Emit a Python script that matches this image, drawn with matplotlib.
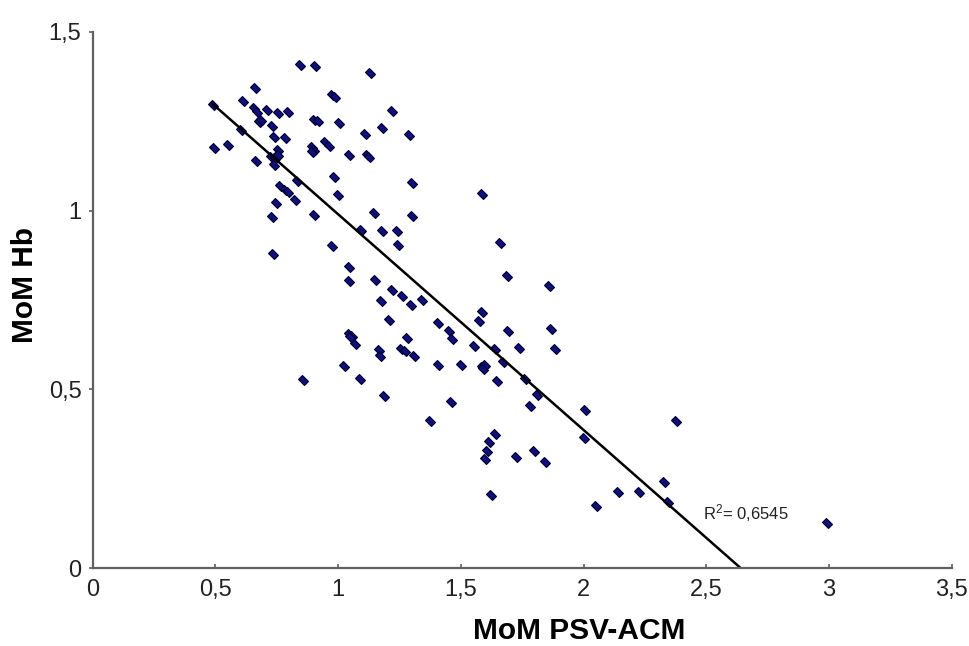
import matplotlib
matplotlib.use("Agg")
import matplotlib.pyplot as plt
import numpy as np
from matplotlib.markers import MarkerStyle
from matplotlib.transforms import Affine2D
from matplotlib.ticker import FuncFormatter, MultipleLocator

plt.rcParams['font.family'] = ['Liberation Sans', 'DejaVu Sans']
plt.rcParams['mathtext.default'] = 'regular'

# values
mom_psv = [0.846, 0.908, 1.131, 0.662, 0.489, 0.614, 0.976, 0.989, 0.658, 0.671,
           0.712, 0.757, 0.797, 1.219, 0.678, 0.685, 0.901, 0.919, 1.003, 0.730,
           1.181, 1.108, 1.290, 0.606, 0.739, 0.786, 0.493, 0.550, 0.895, 0.901,
           0.892, 0.948, 0.965, 0.755, 1.043, 1.118, 1.127, 0.665, 0.725, 0.745,
           0.739, 0.757, 0.834, 0.983, 1.300, 0.763, 0.786, 0.797, 0.824, 0.999,
           0.748, 0.732, 0.901, 1.145, 1.300, 1.095, 1.181, 1.240, 1.246, 0.736,
           0.976, 1.043, 1.046, 1.152, 1.219, 1.260, 1.297, 1.341, 1.175, 1.206,
           1.046, 1.057, 1.071, 1.050, 1.280, 1.165, 1.172, 1.257, 1.273, 1.311,
           1.026, 0.857, 1.088, 1.188, 1.659, 1.690, 1.858, 1.588, 1.575, 1.409,
           1.454, 1.463, 1.693, 1.866, 1.555, 1.639, 1.736, 1.885, 1.409, 1.500,
           1.585, 1.598, 1.592, 1.673, 1.648, 1.761, 1.812, 1.781, 2.007, 1.460,
           1.375, 2.376, 1.639, 1.616, 1.605, 1.598, 1.727, 1.799, 1.842, 2.004,
           1.625, 2.052, 2.140, 2.228, 2.329, 2.345, 2.992, 1.585]
mom_hb = [1.407, 1.404, 1.384, 1.342, 1.295, 1.306, 1.323, 1.318, 1.286, 1.277,
          1.283, 1.274, 1.277, 1.279, 1.248, 1.253, 1.255, 1.250, 1.246, 1.236,
          1.230, 1.214, 1.211, 1.227, 1.205, 1.202, 1.174, 1.185, 1.178, 1.169,
          1.164, 1.192, 1.180, 1.169, 1.155, 1.155, 1.150, 1.139, 1.150, 1.146,
          1.127, 1.155, 1.083, 1.094, 1.077, 1.069, 1.057, 1.052, 1.031, 1.043,
          1.021, 0.982, 0.987, 0.993, 0.984, 0.945, 0.943, 0.943, 0.903, 0.879,
          0.900, 0.842, 0.803, 0.805, 0.779, 0.760, 0.737, 0.750, 0.746, 0.695,
          0.655, 0.650, 0.627, 0.646, 0.644, 0.610, 0.592, 0.613, 0.608, 0.592,
          0.566, 0.527, 0.529, 0.480, 0.910, 0.816, 0.788, 0.716, 0.692, 0.685,
          0.664, 0.641, 0.664, 0.669, 0.622, 0.613, 0.616, 0.613, 0.569, 0.569,
          0.562, 0.569, 0.557, 0.576, 0.522, 0.529, 0.485, 0.452, 0.442, 0.465,
          0.412, 0.412, 0.375, 0.354, 0.328, 0.305, 0.312, 0.328, 0.298, 0.365,
          0.204, 0.174, 0.214, 0.214, 0.242, 0.186, 0.127, 1.048]

# trendline as drawn in the chart
trend_slope = -0.6038
trend_intercept = 1.594
r2_label = 'R$^{2}$= 0,6545'

x = np.array(mom_psv)
y = np.array(mom_hb)

fig = plt.figure(figsize=(9.69, 6.46), dpi=100)
ax = fig.add_axes([0.0955, 0.1207, 0.8867, 0.8298])

# Excel style diamond: slightly stretched square turned 45 degrees
marker = MarkerStyle('s', transform=Affine2D().scale(1.5, 1.0).rotate_deg(-42))
ax.plot(x, y, linestyle='none', marker=marker, markersize=4.4,
        markerfacecolor='#10107a', markeredgecolor='#000030', markeredgewidth=0.8,
        zorder=3)

# trend line from the smallest x to where it meets the x axis
x_end = -trend_intercept / trend_slope
xl = np.array([x.min(), x_end])
ax.plot(xl, trend_intercept + trend_slope * xl, color='black', lw=1.8, zorder=4)

ax.text(2.487, 0.137, r2_label, fontsize=12, color='#222222')

ax.set_xlim(0, 3.5)
ax.set_ylim(0, 1.5)
ax.xaxis.set_major_locator(MultipleLocator(0.5))
ax.yaxis.set_major_locator(MultipleLocator(0.5))
fmt = FuncFormatter(lambda v, pos: '{:g}'.format(v).replace('.', ','))
ax.xaxis.set_major_formatter(fmt)
ax.yaxis.set_major_formatter(fmt)

for side in ['top', 'right']:
    ax.spines[side].set_visible(False)
for side in ['left', 'bottom']:
    ax.spines[side].set_color('#606060')
    ax.spines[side].set_linewidth(1.6)
    ax.spines[side].set_zorder(5)

ax.tick_params(axis='x', direction='in', length=3, width=1.2, color='#606060',
               labelsize=17, pad=8, labelcolor='#222222')
ax.tick_params(axis='y', direction='out', length=3, width=1.2, color='#606060',
               labelsize=17, pad=5, labelcolor='#222222')

fig.text(579.5 / 969, 7 / 646, 'MoM PSV-ACM', fontsize=21.5, fontweight='bold',
         ha='center', va='baseline')
fig.text(25 / 969, (646 - 285) / 646, 'MoM Hb', fontsize=21.5, fontweight='bold',
         ha='center', va='center', rotation=90)

fig.savefig('out.png', dpi=100)
